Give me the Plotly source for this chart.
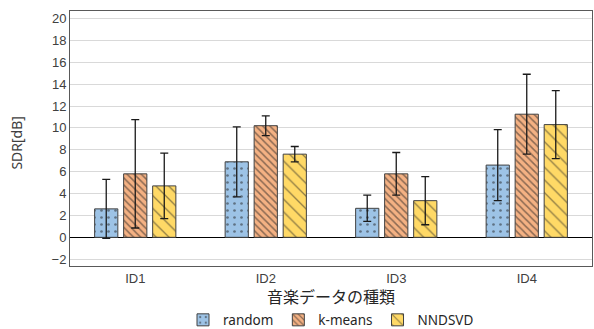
import plotly.graph_objects as go

categories = ["ID1", "ID2", "ID3", "ID4"]
series_names = ["random", "k-means", "NNDSVD"]
random_vals = [2.6, 6.9, 2.65, 6.6]
random_err = [2.7, 3.2, 1.2, 3.25]
kmeans_vals = [5.8, 10.2, 5.8, 11.25]
kmeans_err = [4.95, 0.9, 1.95, 3.65]
nndsvd_vals = [4.7, 7.6, 3.35, 10.3]
nndsvd_err = [3.0, 0.7, 2.2, 3.1]
y_ticks = list(range(-2, 21, 2))

colors = ["#9DC3E6", "#F4B183", "#FFD966"]
shapes = [".", "\\", "\\"]
sizes = [7, 5, 9]
solid = [0.12, 0.3, 0.15]

fig = go.Figure()
for name, vals, errs, c, sh, sz, so in zip(series_names, [random_vals, kmeans_vals, nndsvd_vals],
                                          [random_err, kmeans_err, nndsvd_err], colors, shapes, sizes, solid):
    fig.add_trace(go.Bar(
        x=categories, y=vals, name=name,
        marker=dict(color=c, line=dict(color="#404040", width=1),
                    pattern=dict(shape=sh, fgcolor="#222222", size=sz, solidity=so, fillmode="overlay")),
        error_y=dict(type="data", array=errs, visible=True, color="#1a1a1a", thickness=1.3, width=4),
    ))

fig.update_layout(
    width=594, height=329,
    margin=dict(l=70, r=2, t=11, b=63, autoexpand=False),
    plot_bgcolor="white", paper_bgcolor="white",
    barmode="group", bargap=0.333, bargroupgap=0.2,
    font=dict(family="Liberation Sans, Noto Sans CJK JP", size=12, color="#404040"),
    showlegend=True,
    legend=dict(orientation="h", x=0.5, xanchor="center", y=-0.212, yanchor="middle",
                font=dict(size=13.5, color="#262626", family="Noto Sans, Noto Sans CJK JP"),
                itemwidth=30, tracegroupgap=0),
    xaxis=dict(showgrid=False, showline=True, linecolor="#595959", linewidth=1, mirror=True,
               ticks="", tickfont=dict(size=13, color="#404040")),
    yaxis=dict(range=[-2.62, 20.68], tickvals=y_ticks, showgrid=True, gridcolor="#D9D9D9", gridwidth=1,
               showline=True, linecolor="#595959", linewidth=1, mirror=True,
               zeroline=True, zerolinecolor="#000000", zerolinewidth=1,
               ticks="", tickfont=dict(size=13, color="#404040")),
    annotations=[
        dict(text="音楽データの種類", xref="paper", yref="paper", x=0.5, y=-0.116, xanchor="center", yanchor="middle",
             showarrow=False, font=dict(size=16, color="#262626", family="Noto Sans CJK JP")),
        dict(text="SDR[dB]", xref="paper", yref="paper", x=-0.1015, y=0.484, xanchor="center", yanchor="middle",
             textangle=-90, showarrow=False, font=dict(size=14, color="#404040", family="Noto Sans")),
    ],
)

fig.write_html("out.html")
